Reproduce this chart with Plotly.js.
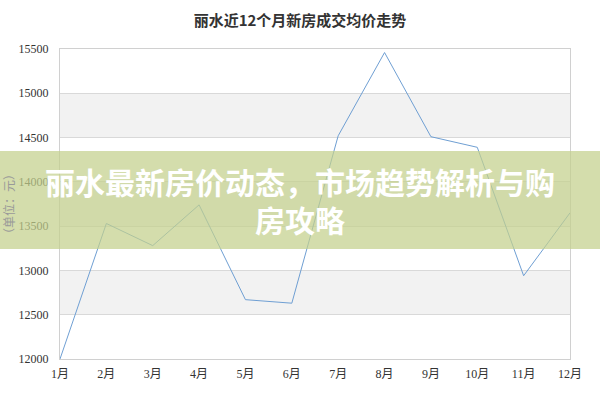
<!DOCTYPE html>
<html><head><meta charset="utf-8">
<script src="https://cdn.plot.ly/plotly-3.0.1.min.js"></script>
<style>html,body{margin:0;padding:0;background:#fff}#chart{width:600px;height:400px}</style>
</head><body><div id="chart"></div>
<script>
var months = ['1月','2月','3月','4月','5月','6月','7月','8月','9月','10月','11月','12月'];
var prices = [12000,13530,13280,13740,12670,12630,14520,15460,14510,14390,12940,13650];
var yTicks = [12000,12500,13000,13500,14000,14500,15000,15500];
var yTickLabels = ['12000','12500','13000','13500','14000','14500','15000','15500'];
var chartTitle = '丽水近12个月新房成交均价走势';
var yTitle = '（单位：元）';
var overlayLines = ['丽水最新房价动态，市场趋势解析与购', '房攻略'];

var shapes = [];
for (var i = 1; i < yTicks.length - 1; i += 2) {
  shapes.push({type:'rect', xref:'paper', yref:'y', x0:0, x1:1, y0:yTicks[i], y1:yTicks[i+1],
    fillcolor:'#f2f2f2', line:{width:0}, layer:'below'});
}
shapes.push({type:'rect', xref:'paper', yref:'paper', x0:-0.2, x1:1.2, y0:0.355, y1:0.671,
  fillcolor:'rgba(196,208,140,0.72)', line:{width:0}, layer:'above'});

var trace = {x: months, y: prices, type:'scatter', mode:'lines',
  line:{color:'#6f9fd3', width:1}, hoverinfo:'none'};

var tickFam = '"Liberation Serif","Noto Sans CJK SC",serif';
var layout = {
  width:600, height:400,
  margin:{l:60, r:30, t:49, b:41},
  paper_bgcolor:'#fff', plot_bgcolor:'#fff',
  showlegend:false,
  font:{family:tickFam, color:'#333', size:12},
  title:{text:chartTitle, x:0.5, xanchor:'center', y:0.9475, yanchor:'middle',
    font:{family:'"Noto Sans CJK SC",sans-serif', size:15, color:'#333', weight:'bold'}},
  xaxis:{type:'category', range:[0, 11], showgrid:false, zeroline:false,
    showline:true, linecolor:'#d0d0d0', linewidth:1, mirror:true, ticks:'', ticklen:0,
    ticklabelstandoff:4,
    tickfont:{size:12, color:'#333', family:tickFam}},
  yaxis:{range:[12000,15500], tickvals:yTicks, ticktext:yTickLabels, showgrid:true, gridcolor:'#d9d9d9', gridwidth:1,
    zeroline:false, showline:true, linecolor:'#d0d0d0', linewidth:1, mirror:true, ticks:'',
    ticklabelstandoff:8,
    tickfont:{size:12, color:'#333', family:tickFam},
    title:{text:yTitle, standoff:6, font:{size:12, color:'#999', family:'"Noto Sans CJK SC",sans-serif'}}},
  shapes: shapes,
  annotations:[{xref:'paper', yref:'paper', x:0.47, y:0.574, xanchor:'center', yanchor:'middle',
      text:overlayLines[0], showarrow:false,
      font:{family:'"Noto Sans CJK SC",sans-serif', size:30, color:'#fff', weight:'bold'}},
    {xref:'paper', yref:'paper', x:0.47, y:0.452, xanchor:'center', yanchor:'middle',
      text:overlayLines[1], showarrow:false,
      font:{family:'"Noto Sans CJK SC",sans-serif', size:30, color:'#fff', weight:'bold'}}]
};
Plotly.newPlot('chart', [trace], layout, {staticPlot:true, displayModeBar:false});
</script></body></html>
